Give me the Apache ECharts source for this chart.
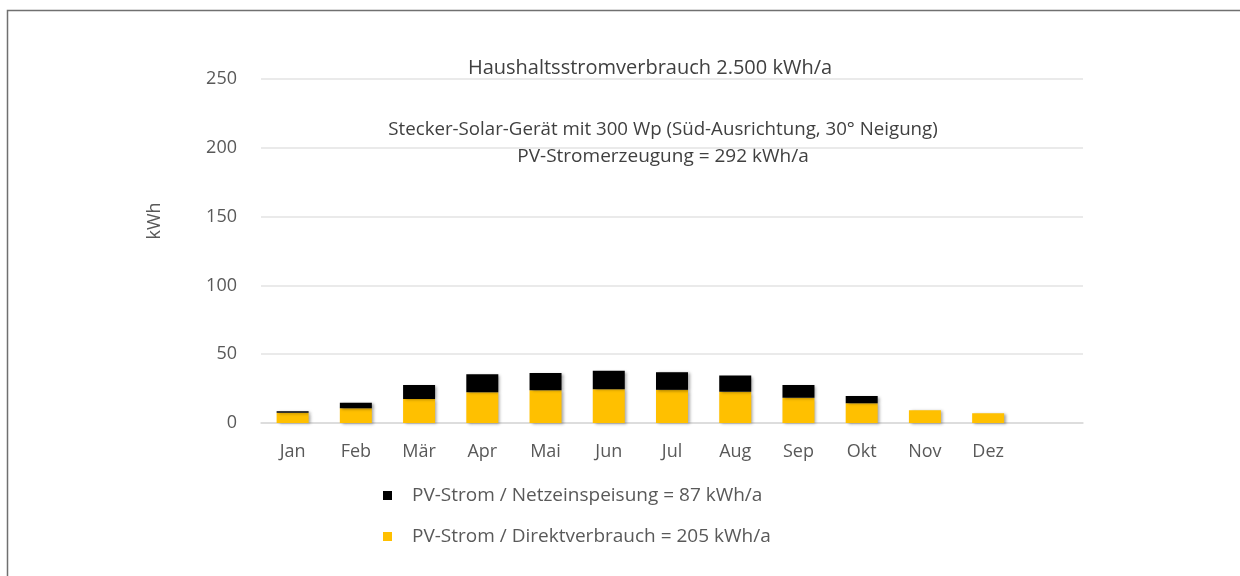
<!DOCTYPE html>
<html>
<head>
<meta charset="utf-8">
<script src="https://cdn.jsdelivr.net/npm/echarts@6/dist/echarts.min.js"></script>
<style>
  html, body { margin: 0; padding: 0; background: #fff; }
  #chart { width: 1240px; height: 576px; }
</style>
</head>
<body>
<div id="chart"></div>
<script>
// Monatswerte (kWh)
const months = ["Jan", "Feb", "Mär", "Apr", "Mai", "Jun", "Jul", "Aug", "Sep", "Okt", "Nov", "Dez"];
const direktverbrauch = [7.5, 10.7, 17.5, 22.4, 23.8, 24.6, 24.1, 22.8, 18.4, 14.4, 9.3, 7.1];
const netzeinspeisung = [1.0, 4.1, 10.2, 13.1, 12.6, 13.3, 12.8, 11.7, 9.3, 5.3, 0, 0];
const yTicks = [0, 50, 100, 150, 200, 250];

const nameNetz = "PV-Strom / Netzeinspeisung = 87 kWh/a";
const nameDirekt = "PV-Strom / Direktverbrauch = 205 kWh/a";

const font = "'Open Sans', 'Noto Sans', sans-serif";
const grey = "#595959";

const chart = echarts.init(document.getElementById("chart"));

const barShadow = {
  shadowColor: "rgba(0,0,0,0.35)",
  shadowBlur: 3,
  shadowOffsetX: 2,
  shadowOffsetY: 1,
};

const option = {
  backgroundColor: "#fff",
  animation: false,
  textStyle: { fontFamily: font },
  grid: { left: 261, right: 157, top: 79, bottom: 153 },
  xAxis: {
    type: "category",
    data: months.concat([""]),
    axisLine: { lineStyle: { color: "#d9d9d9", width: 1.5 } },
    axisTick: { show: false },
    axisLabel: { color: grey, fontSize: 18, margin: 20, interval: 0 },
  },
  yAxis: {
    type: "value",
    min: yTicks[0],
    max: yTicks[yTicks.length - 1],
    interval: 50,
    axisLine: { show: false },
    axisTick: { show: false },
    axisLabel: { color: grey, fontSize: 18, margin: 24 },
    splitLine: { lineStyle: { color: "#e3e3e3", width: 1.5 } },
  },
  legend: {
    orient: "vertical",
    left: 378,
    top: 480,
    itemGap: 20,
    itemWidth: 9,
    itemHeight: 9,
    icon: "rect",
    data: [nameNetz, nameDirekt],
    textStyle: { color: grey, fontSize: 19, lineHeight: 21, padding: [0, 0, 0, 15] },
  },
  graphic: [
    {
      type: "rect",
      left: 5,
      top: 8,
      shape: { width: 1300, height: 700 },
      style: { fill: "none", stroke: "#707070", lineWidth: 1.5 },
      silent: true,
    },
    {
      type: "text",
      x: 650, y: 68,
      style: { text: "Haushaltsstromverbrauch 2.500 kWh/a", fill: "#404040", fontSize: 20, fontFamily: font, align: "center", verticalAlign: "middle" },
    },
    {
      type: "text",
      x: 663, y: 130,
      style: { text: "Stecker-Solar-Gerät mit 300 Wp (Süd-Ausrichtung, 30° Neigung)", fill: "#404040", fontSize: 18.7, fontFamily: font, align: "center", verticalAlign: "middle" },
    },
    {
      type: "text",
      x: 663, y: 157,
      style: { text: "PV-Stromerzeugung = 292 kWh/a", fill: "#404040", fontSize: 19, fontFamily: font, align: "center", verticalAlign: "middle" },
    },
    {
      type: "text",
      x: 155, y: 221,
      rotation: Math.PI / 2,
      style: { text: "kWh", fill: grey, fontSize: 18, fontFamily: font, align: "center", verticalAlign: "middle" },
    },
  ],
  series: [
    {
      name: nameDirekt,
      type: "bar",
      stack: "pv",
      barWidth: 32,
      data: direktverbrauch,
      itemStyle: Object.assign({ color: "#FFC000" }, barShadow),
    },
    {
      name: nameNetz,
      type: "bar",
      stack: "pv",
      barWidth: 32,
      data: netzeinspeisung,
      itemStyle: Object.assign({ color: "#000000" }, barShadow),
    },
  ],
};

chart.setOption(option);
</script>
</body>
</html>
